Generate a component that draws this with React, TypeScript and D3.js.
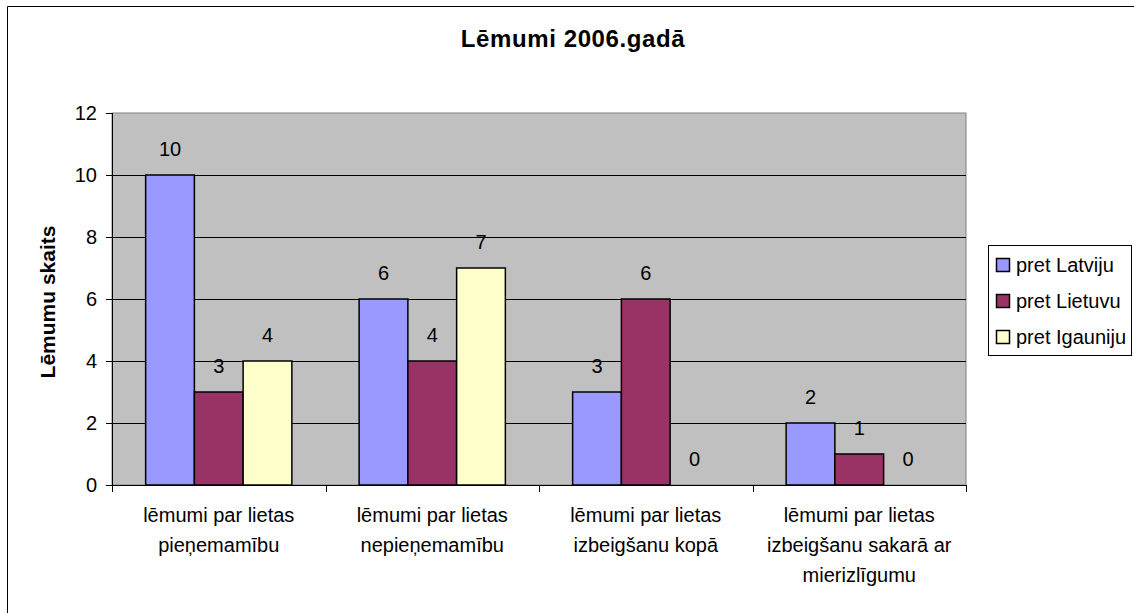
import React from "react";
import * as d3 from "d3";

const categories: string[][] = [
  ["lēmumi par lietas", "pieņemamību"],
  ["lēmumi par lietas", "nepieņemamību"],
  ["lēmumi par lietas", "izbeigšanu kopā"],
  ["lēmumi par lietas", "izbeigšanu sakarā ar", "mierizlīgumu"],
];
const seriesNames = ["pret Latviju", "pret Lietuvu", "pret Igauniju"];
const seriesColors = ["#9999FF", "#993366", "#FFFFCC"];
const latvija = [10, 6, 3, 2];
const lietuva = [3, 4, 6, 1];
const igaunija = [4, 7, 0, 0];
const seriesValues = [latvija, lietuva, igaunija];
const yTicks = [0, 2, 4, 6, 8, 10, 12];
const title = "Lēmumi 2006.gadā";
const yTitle = "Lēmumu skaits";

const W = 1134;
const H = 613;
const FONT = "'Liberation Sans', Arial, sans-serif";

export default function App() {
  const left = 112, right = 966, top = 113, bottom = 485;
  const y = d3.scaleLinear().domain([0, 12]).range([bottom, top]);
  const catIdx = categories.map((_, i) => String(i));
  const x0 = d3.scaleBand<string>().domain(catIdx).range([left, right]).padding(0);
  const x1 = d3
    .scaleBand<string>()
    .domain(seriesNames)
    .range([0, x0.bandwidth()])
    .paddingInner(0)
    .paddingOuter(0.69);

  return (
    <svg
      width={W}
      height={H}
      style={{ position: "absolute", left: 0, top: 0, background: "#fff" }}
      fontFamily={FONT}
    >
      <rect x={0} y={0} width={W} height={H} fill="#fff" />
      {/* outer border */}
      <line x1={7.5} y1={6.5} x2={W} y2={6.5} stroke="#000" />
      <line x1={7.5} y1={6.5} x2={7.5} y2={H} stroke="#000" />

      {/* title */}
      <text x={573} y={47} textAnchor="middle" fontWeight="bold" fontSize={24} letterSpacing={0.6}>
        {title}
      </text>

      {/* plot area */}
      <rect x={left} y={top} width={right - left} height={bottom - top} fill="#C0C0C0" stroke="#808080" />
      {yTicks.slice(1, -1).map((t) => (
        <line key={t} x1={left} x2={right} y1={Math.round(y(t)) + 0.5} y2={Math.round(y(t)) + 0.5} stroke="#000" />
      ))}
      {/* axes */}
      <line x1={left + 0.5} x2={left + 0.5} y1={top} y2={bottom} stroke="#000" />
      <line x1={left} x2={right} y1={bottom + 0.5} y2={bottom + 0.5} stroke="#000" />
      {yTicks.map((t) => (
        <g key={t}>
          <line x1={left - 6} x2={left} y1={Math.round(y(t)) + 0.5} y2={Math.round(y(t)) + 0.5} stroke="#000" />
          <text x={97} y={y(t) + 7} textAnchor="end" fontSize={20}>
            {t}
          </text>
        </g>
      ))}
      {[...catIdx, "end"].map((c, i) => {
        const xx = i < catIdx.length ? (x0(c) as number) : right;
        return <line key={c} x1={Math.round(xx) + 0.5} x2={Math.round(xx) + 0.5} y1={bottom} y2={bottom + 7} stroke="#000" />;
      })}

      {/* bars */}
      {catIdx.map((c, ci) => (
        <g key={c} transform={`translate(${x0(c)},0)`}>
          {seriesNames.map((s, si) => {
            const v = seriesValues[si][ci];
            const bx = x1(s) as number;
            return (
              <g key={s}>
                {v > 0 && (
                  <rect
                    x={bx}
                    y={y(v)}
                    width={x1.bandwidth()}
                    height={y(0) - y(v)}
                    fill={seriesColors[si]}
                    stroke="#000"
                    strokeWidth={1.5}
                  />
                )}
                <text x={bx + x1.bandwidth() / 2} y={y(v) - 19} textAnchor="middle" fontSize={20}>
                  {v}
                </text>
              </g>
            );
          })}
        </g>
      ))}

      {/* category labels */}
      {categories.map((lines, ci) => (
        <text key={ci} textAnchor="middle" fontSize={20}>
          {lines.map((ln, li) => (
            <tspan key={li} x={(x0(String(ci)) as number) + x0.bandwidth() / 2} y={522 + li * 30}>
              {ln}
            </tspan>
          ))}
        </text>
      ))}

      {/* y title */}
      <text
        transform={`translate(55,${(top + bottom) / 2 + 3}) rotate(-90)`}
        textAnchor="middle"
        fontWeight="bold"
        fontSize={21}
      >
        {yTitle}
      </text>

      {/* legend */}
      <rect x={988.5} y={245.5} width={143} height={110} fill="#fff" stroke="#000" />
      {seriesNames.map((s, si) => (
        <g key={s} transform={`translate(0,${265 + si * 36})`}>
          <rect x={996.5} y={-6.5} width={13} height={13} fill={seriesColors[si]} stroke="#000" strokeWidth={1.5} />
          <text x={1016} y={7} fontSize={20}>
            {s}
          </text>
        </g>
      ))}
    </svg>
  );
}
